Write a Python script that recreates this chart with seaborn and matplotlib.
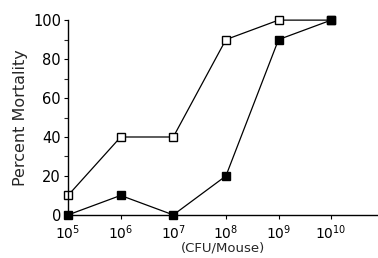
import numpy as np
import pandas as pd
import seaborn as sns
import matplotlib
matplotlib.use('Agg')
import matplotlib.pyplot as plt
from matplotlib.ticker import LogLocator, MultipleLocator, NullLocator

# data
dose = [1e5, 1e6, 1e7, 1e8, 1e9, 1e10]
open_mort = [10, 40, 40, 90, 100, 100]
filled_mort = [0, 10, 0, 20, 90, 100]

sns.set_style('ticks')
plt.rcParams['font.family'] = ['DejaVu Sans']
plt.rcParams['mathtext.fontset'] = 'dejavusans'

df = pd.DataFrame({'dose': dose, 'open': open_mort, 'filled': filled_mort})

fig = plt.figure(figsize=(3.78, 2.58), dpi=100)
ax = fig.add_axes([0.18, 0.167, 0.82, 0.755])

sns.lineplot(data=df, x='dose', y='open', ax=ax, color='black', lw=0.9,
             marker='s', markersize=6.3, mfc='white', mec='black', mew=1.0,
             clip_on=False)
sns.lineplot(data=df, x='dose', y='filled', ax=ax, color='black', lw=0.9,
             marker='s', markersize=6.3, mfc='black', mec='black', mew=1.0,
             clip_on=False)

ax.set_xscale('log')
ax.set_xlim(1e5, 10 ** 10.89)
ax.set_ylim(0, 100)
ax.xaxis.set_major_locator(LogLocator(base=10, numticks=12))
ax.xaxis.set_minor_locator(NullLocator())
ax.yaxis.set_major_locator(MultipleLocator(20))
ax.yaxis.set_minor_locator(MultipleLocator(10))
ax.tick_params(axis='y', which='major', labelsize=10.5, length=3, width=0.8, pad=2, colors='black')
ax.tick_params(axis='x', which='major', labelsize=10, length=3, width=0.8, pad=3, colors='black')
ax.tick_params(axis='y', which='minor', length=3, width=0.8)
ax.set_xlabel('(CFU/Mouse)', fontsize=9.5, labelpad=0)
ax.set_ylabel('Percent Mortality', fontsize=11.5, labelpad=4)
for s in ['top', 'right']:
    ax.spines[s].set_visible(False)
for s in ['left', 'bottom']:
    ax.spines[s].set_linewidth(1.0)
    ax.spines[s].set_color('black')

fig.savefig('out.png', dpi=100)
